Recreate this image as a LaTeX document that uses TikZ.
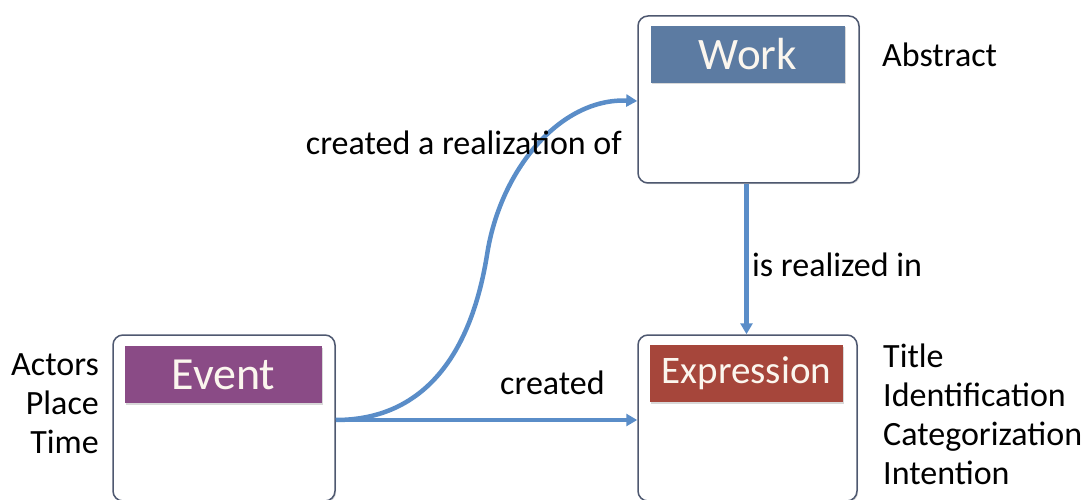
\documentclass[tikz,border=0pt]{standalone}
\usepackage{fontspec}
\setmainfont{Carlito}
\usetikzlibrary{arrows.meta,shadows}
\definecolor{arrowblue}{HTML}{5A8DC8}
\definecolor{boxline}{HTML}{4E5870}
\definecolor{workcol}{HTML}{5C7BA2}
\definecolor{eventcol}{HTML}{8A4B86}
\definecolor{exprcol}{HTML}{A6463B}
\definecolor{headtext}{HTML}{FBF6EE}
\tikzset{
  outerbox/.style={draw=boxline, line width=1.5pt, rounded corners=10pt, fill=white,
    minimum width=#1, drop shadow={opacity=0.25,shadow xshift=1.2pt,shadow yshift=-1.2pt}},
  headbox/.style={draw=none, minimum height=57pt, inner sep=0pt, text=headtext,
    drop shadow={opacity=0.3,shadow xshift=1pt,shadow yshift=-1.5pt}},
  conn/.style={draw=arrowblue, line width=4.5pt, -{Triangle[length=11pt,width=12pt]}},
  lbl/.style={inner sep=0pt, font=\fontsize{34}{39}\selectfont},
}
\begin{document}
\begin{tikzpicture}[x=1pt,y=-1pt]
\useasboundingbox (0,0) rectangle (1085,500);
% outer boxes
\node[outerbox=221pt, minimum height=167pt] (work) at (748.5,99.5) {};
\node[outerbox=222pt, minimum height=166pt] (event) at (224,418) {};
\node[outerbox=219pt, minimum height=166pt] (expr) at (747.5,418) {};
% headers
\node[headbox, fill=workcol, minimum width=194pt, font=\fontsize{45}{50}\selectfont] (workhead) at (748,54.5) {Work};
\node[headbox, fill=eventcol, minimum width=197pt, font=\fontsize{46}{50}\selectfont] (eventhead) at (223.5,374.5) {Event};
\node[headbox, fill=exprcol, minimum width=193pt, font=\fontsize{39}{45}\selectfont] (exprhead) at (746.5,373.5) {Expression};
% connectors
\draw[conn] ([yshift=-2pt]event.east) .. controls (420,420) and (470,360) .. (487,255)
  .. controls (500,170) and (560,98) .. ([yshift=-1.5pt]work.west);
\draw[conn] ([yshift=-2pt]event.east) -- ([yshift=-2pt]expr.west);
\draw[conn] ([xshift=-2pt]work.south) -- ([xshift=-1pt]expr.north);
% labels
\node[lbl, anchor=east] (lrealof) at (622,143) {created a realization of};
\node[lbl, anchor=west] (lcreated) at (500,383) {created};
\node[lbl, anchor=west] (lrealin) at (752,265) {is realized in};
\node[lbl, anchor=west] (labstract) at (882,55) {Abstract};
\node[lbl, anchor=east, align=right] (lleft) at (99,404) {Actors\\Place\\Time};
\node[lbl, anchor=west, align=left] (lright) at (883,414.5) {Title\\Identification\\Categorization\\Intention};
\end{tikzpicture}
\end{document}
